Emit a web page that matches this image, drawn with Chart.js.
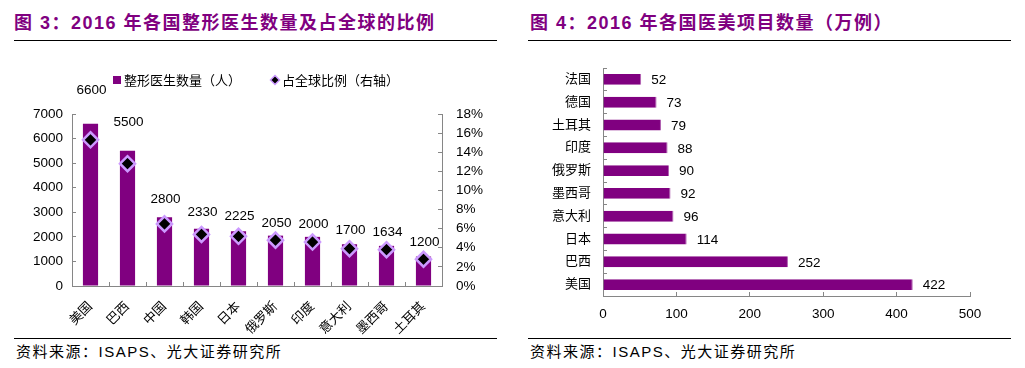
<!DOCTYPE html>
<html>
<head>
<meta charset="utf-8">
<script src="https://cdn.jsdelivr.net/npm/chart.js@4/dist/chart.umd.min.js"></script>
<style>
  html, body { margin: 0; padding: 0; background: #fff; }
  body { width: 1025px; height: 368px; position: relative; overflow: hidden; }
  .title { position: absolute; top: 12px; font-family: "Liberation Sans", "Noto Sans CJK SC", sans-serif; font-weight: bold; font-size: 18px; letter-spacing: 1.5px; color: #800080; white-space: nowrap; line-height: 22px; }
  .rule { position: absolute; height: 0; border-top: 1.5px solid #000; }
  .src { position: absolute; top: 343px; font-family: "Liberation Sans", "Noto Sans CJK SC", sans-serif; font-size: 15px; letter-spacing: 1.5px; color: #000; white-space: nowrap; line-height: 18px; }
  canvas { position: absolute; }
</style>
</head>
<body>
<div class="title" style="left:14px;">图 3：2016 年各国整形医生数量及占全球的比例</div>
<div class="rule" style="left:14px; width:483px; top:40px;"></div>
<div class="title" style="left:530px;">图 4：2016 年各国医美项目数量（万例）</div>
<div class="rule" style="left:528px; width:483px; top:40px;"></div>
<canvas id="c1" width="484" height="276" style="left:14px; top:60px;"></canvas>
<canvas id="c2" width="484" height="276" style="left:528px; top:60px;"></canvas>
<div class="rule" style="left:14px; width:483px; top:338px;"></div>
<div class="rule" style="left:528px; width:483px; top:338px;"></div>
<div class="src" style="left:16px;">资料来源：ISAPS、光大证券研究所</div>
<div class="src" style="left:530px;">资料来源：ISAPS、光大证券研究所</div>
<script>
// ---- Data: chart 1 ----
const surgeonCountries = ['美国', '巴西', '中国', '韩国', '日本', '俄罗斯', '印度', '意大利', '墨西哥', '土耳其'];
const surgeonCounts = [6600, 5500, 2800, 2330, 2225, 2050, 2000, 1700, 1634, 1200];
const surgeonShare = [15.3, 12.8, 6.5, 5.4, 5.2, 4.8, 4.6, 3.9, 3.8, 2.8];
const surgeonSeriesNames = ['整形医生数量（人）', '占全球比例（右轴）'];
const leftTicksMax = 7000;
const rightTicksMax = 18;

// ---- Data: chart 2 ----
const procCountries = ['法国', '德国', '土耳其', '印度', '俄罗斯', '墨西哥', '意大利', '日本', '巴西', '美国'];
const procCounts = [52, 73, 79, 88, 90, 92, 96, 114, 252, 422];
const procAxisMax = 500;

const PURPLE = '#800080';
const LAVENDER = '#CC99FF';
const AXIS = '#868686';
const FONT = '"Liberation Sans", "Noto Sans CJK SC", sans-serif';
const NUM_SIZE = 13.5;

Chart.defaults.font.family = FONT;
Chart.defaults.font.size = 13;
Chart.defaults.color = '#000';

// label offsets above bars (style only)
const labelLift = [34, 29, 18, 16, 15, 12, 13, 14, 14, 14];

const customLegend = {
  id: 'customLegend',
  afterDraw(chart) {
    const ctx = chart.ctx;
    ctx.save();
    ctx.font = '13px ' + FONT;
    ctx.textBaseline = 'middle';
    ctx.textAlign = 'left';
    const w1 = ctx.measureText(surgeonSeriesNames[0]).width;
    const w2 = ctx.measureText(surgeonSeriesNames[1]).width;
    const box = 8, gapBox = 3, gapItem = 30;
    const total = box + gapBox + w1 + gapItem + box + gapBox + w2;
    let x = (chart.width - total) / 2;
    const y = 20;
    ctx.fillStyle = PURPLE;
    ctx.fillRect(x, y - box / 2, box, box);
    x += box + gapBox;
    ctx.fillStyle = '#000';
    ctx.fillText(surgeonSeriesNames[0], x, y + 1);
    x += w1 + gapItem;
    const r = 4.5, cx = x + box / 2;
    ctx.beginPath();
    ctx.moveTo(cx, y - r);
    ctx.lineTo(cx + r, y);
    ctx.lineTo(cx, y + r);
    ctx.lineTo(cx - r, y);
    ctx.closePath();
    ctx.fillStyle = '#000';
    ctx.fill();
    ctx.lineWidth = 1.5;
    ctx.strokeStyle = LAVENDER;
    ctx.stroke();
    x += box + gapBox;
    ctx.fillStyle = '#000';
    ctx.fillText(surgeonSeriesNames[1], x, y + 1);
    ctx.restore();
  }
};

const barLabels1 = {
  id: 'barLabels1',
  afterDatasetsDraw(chart) {
    const ctx = chart.ctx;
    const idx = chart.data.datasets.findIndex(d => d.type === 'bar');
    const meta = chart.getDatasetMeta(idx);
    ctx.save();
    ctx.font = NUM_SIZE + 'px ' + FONT;
    ctx.fillStyle = '#000';
    ctx.textAlign = 'center';
    ctx.textBaseline = 'middle';
    meta.data.forEach((bar, i) => {
      ctx.fillText(String(chart.data.datasets[idx].data[i]), bar.x + 1, bar.y - labelLift[i]);
    });
    ctx.restore();
  }
};

new Chart(document.getElementById('c1'), {
  data: {
    labels: surgeonCountries,
    datasets: [
      {
        type: 'line',
        label: surgeonSeriesNames[1],
        data: surgeonShare,
        yAxisID: 'y1',
        showLine: false,
        pointStyle: 'rectRot',
        pointRadius: 7.5,
        pointHoverRadius: 7.5,
        pointBackgroundColor: '#000',
        pointBorderColor: LAVENDER,
        pointBorderWidth: 2.5,
        order: 0
      },
      {
        type: 'bar',
        label: surgeonSeriesNames[0],
        data: surgeonCounts,
        yAxisID: 'y',
        backgroundColor: PURPLE,
        borderWidth: 0,
        categoryPercentage: 1,
        barPercentage: 0.41,
        order: 1
      }
    ]
  },
  options: {
    responsive: false,
    animation: false,
    devicePixelRatio: 1,
    layout: { padding: { top: 54, left: 0, right: 0, bottom: 0 } },
    plugins: {
      tooltip: { enabled: false },
      legend: { display: false }
    },
    scales: {
      x: {
        type: 'category',
        grid: { display: true, drawOnChartArea: false, drawTicks: true, tickLength: -4, color: AXIS, offset: true },
        border: { display: true, color: AXIS, width: 1 },
        ticks: { minRotation: 45, maxRotation: 45, padding: 17, font: { size: 13 }, color: '#000', autoSkip: false },
        afterFit(s) { s.height = 50; }
      },
      y: {
        type: 'linear',
        position: 'left',
        min: 0,
        max: leftTicksMax,
        grid: { display: true, drawOnChartArea: false, drawTicks: true, tickLength: -4, color: AXIS },
        border: { display: true, color: AXIS, width: 1 },
        ticks: { stepSize: 1000, padding: 13, autoSkip: false, font: { size: NUM_SIZE }, color: '#000', callback: v => String(v) },
        afterFit(s) { s.width = 58; }
      },
      y1: {
        type: 'linear',
        position: 'right',
        min: 0,
        max: rightTicksMax,
        grid: { display: true, drawOnChartArea: false, drawTicks: true, tickLength: -4, color: AXIS },
        border: { display: true, color: AXIS, width: 1 },
        ticks: { stepSize: 2, padding: 18, autoSkip: false, font: { size: NUM_SIZE }, color: '#000', callback: v => v + '%' },
        afterFit(s) { s.width = 56; }
      }
    }
  },
  plugins: [customLegend, barLabels1]
});

const barLabels2 = {
  id: 'barLabels2',
  afterDatasetsDraw(chart) {
    const ctx = chart.ctx;
    const meta = chart.getDatasetMeta(0);
    ctx.save();
    ctx.font = NUM_SIZE + 'px ' + FONT;
    ctx.fillStyle = '#000';
    ctx.textAlign = 'left';
    ctx.textBaseline = 'middle';
    meta.data.forEach((bar, i) => {
      ctx.fillText(String(chart.data.datasets[0].data[i]), bar.x + 10, bar.y + 1);
    });
    ctx.restore();
  }
};

new Chart(document.getElementById('c2'), {
  type: 'bar',
  data: {
    labels: procCountries,
    datasets: [{
      label: '医美项目数量（万例）',
      data: procCounts,
      backgroundColor: PURPLE,
      borderColor: '#B060B0',
      borderWidth: { top: 0, bottom: 0, left: 0, right: 1 },
      categoryPercentage: 1,
      barPercentage: 0.48
    }]
  },
  options: {
    indexAxis: 'y',
    responsive: false,
    animation: false,
    devicePixelRatio: 1,
    layout: { padding: { top: 8, right: 42, left: 0, bottom: 0 } },
    plugins: { legend: { display: false }, tooltip: { enabled: false } },
    scales: {
      x: {
        type: 'linear',
        min: 0,
        max: procAxisMax,
        grid: { display: true, drawOnChartArea: false, drawTicks: true, tickLength: -4, color: AXIS },
        border: { display: true, color: AXIS, width: 1 },
        ticks: { stepSize: 100, padding: 14, autoSkip: false, font: { size: NUM_SIZE }, color: '#000', maxRotation: 0 },
        afterFit(s) { s.height = 40; }
      },
      y: {
        type: 'category',
        grid: { display: true, drawOnChartArea: false, drawTicks: true, tickLength: -4, color: AXIS, offset: true },
        border: { display: true, color: AXIS, width: 1 },
        ticks: { padding: 16, font: { size: 13 }, color: '#000', autoSkip: false },
        afterFit(s) { s.width = 75; s.paddingTop = 0; s.paddingBottom = 0; }
      }
    }
  },
  plugins: [barLabels2]
});
</script>
</body>
</html>
